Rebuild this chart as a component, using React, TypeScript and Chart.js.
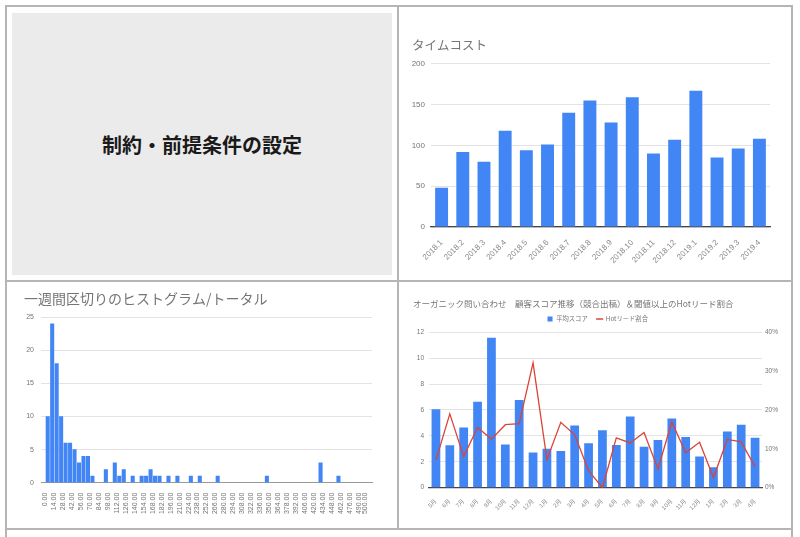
import React, { useEffect, useRef } from 'react';
import { Chart, registerables } from 'chart.js';
Chart.register(...registerables);

const NUM_FONT = '"Liberation Sans", "Noto Sans CJK JP", Arial, sans-serif';
const JP_FONT = '"Noto Sans CJK JP", "Liberation Sans", sans-serif';

// ---- タイムコスト ----
const timeLabels = ['2018.1', '2018.2', '2018.3', '2018.4', '2018.5', '2018.6', '2018.7', '2018.8', '2018.9', '2018.10', '2018.11', '2018.12', '2019.1', '2019.2', '2019.3', '2019.4'];
const timeValues = [48, 92, 80, 118, 94, 101, 140, 155, 128, 159, 90, 107, 167, 85, 96, 108];
const timeTicks = [0, 50, 100, 150, 200];

// ---- ヒストグラム ----
const histBinStart = [0, 7, 14, 21, 28, 35, 42, 49, 56, 63, 70, 91, 105, 112, 119, 133, 147, 154, 161, 168, 175, 189, 203, 224, 238, 266, 343, 427, 455];
const histCounts = [10, 24, 18, 10, 6, 6, 5, 3, 4, 4, 1, 2, 3, 1, 2, 1, 1, 1, 2, 1, 1, 1, 1, 1, 1, 1, 1, 3, 1];
const histBinWidth = 7;
const histXTicks = [0, 14, 28, 42, 56, 70, 84, 98, 112, 126, 140, 154, 168, 182, 196, 210, 224, 238, 252, 266, 280, 294, 308, 322, 336, 350, 364, 378, 392, 406, 420, 434, 448, 462, 476, 490, 500];
const histYTicks = [0, 5, 10, 15, 20, 25];

// ---- 顧客スコア推移 ----
const months = ['5月', '6月', '7月', '8月', '9月', '10月', '11月', '12月', '1月', '2月', '3月', '4月', '5月', '6月', '7月', '8月', '9月', '10月', '11月', '12月', '1月', '2月', '3月', '4月'];
const avgScore = [6.05, 3.27, 4.64, 6.64, 11.56, 3.34, 6.77, 2.72, 3.01, 2.83, 4.8, 3.42, 4.43, 3.29, 5.5, 3.16, 3.68, 5.34, 3.91, 2.41, 1.58, 4.33, 4.85, 3.86];
const hotRate = [7.1, 19.0, 8.0, 15.5, 12.5, 16.2, 16.5, 32.1, 7.2, 16.8, 13.6, 4.4, 0, 12.8, 11.5, 14.2, 4.8, 16.9, 9.0, 11.7, 2.6, 12.4, 11.8, 5.4];
const scoreTicks = [0, 2, 4, 6, 8, 10, 12];
const rateTicks = [0, 10, 20, 30, 40];

const BLUE = '#4285f4';
const RED = '#db4437';
const GRID = '#e3e3e3';

function setTicks(values: number[]) {
  return (scale: any) => {
    scale.ticks = values.map((v) => ({ value: v }));
  };
}

function timeConfig(): any {
  return {
    type: 'bar',
    data: {
      labels: timeLabels,
      datasets: [{ data: timeValues, backgroundColor: BLUE, borderWidth: 0, barPercentage: 0.61, categoryPercentage: 1 }],
    },
    options: {
      animation: false,
      responsive: false,
      maintainAspectRatio: false,
      layout: { padding: { left: 14, right: 20, top: 0, bottom: 0 } },
      plugins: {
        legend: { display: false },
        tooltip: { enabled: false },
        title: {
          display: true,
          text: 'タイムコスト',
          align: 'start',
          color: '#757575',
          font: { family: JP_FONT, size: 12.5, weight: 'normal' },
          padding: { top: 15.5, bottom: 11.2 },
        },
      },
      scales: {
        x: {
          grid: { display: false },
          border: { display: true, color: '#444', width: 1.2 },
          ticks: { minRotation: 45, maxRotation: 45, autoSkip: false, font: { family: NUM_FONT, size: 8 }, color: '#8a8a8a', padding: 3 },
          afterFit: (s: any) => { s.height = 51; },
        },
        y: {
          min: 0,
          max: 200,
          afterBuildTicks: setTicks(timeTicks),
          grid: { color: GRID, drawTicks: false },
          border: { display: false },
          ticks: { padding: 6, font: { family: NUM_FONT, size: 8 }, color: '#757575' },
          afterFit: (s: any) => { s.width = 19; },
        },
      },
    },
  };
}

function histConfig(): any {
  return {
    type: 'bar',
    data: {
      datasets: [{
        data: histBinStart.map((s, i) => ({ x: s + histBinWidth / 2, y: histCounts[i] })),
        backgroundColor: BLUE,
        borderWidth: 0,
        barThickness: 3.4,
      }],
    },
    options: {
      animation: false,
      responsive: false,
      maintainAspectRatio: false,
      layout: { padding: { left: 16, right: 23, top: 0, bottom: 0 } },
      plugins: {
        legend: { display: false },
        tooltip: { enabled: false },
        title: {
          display: true,
          text: '一週間区切りのヒストグラム/トータル',
          align: 'start',
          color: '#757575',
          font: { family: JP_FONT, size: 14, weight: 'normal' },
          padding: { top: 7.6, bottom: 9.9 },
        },
      },
      scales: {
        x: {
          type: 'linear',
          min: 0,
          max: 504,
          afterBuildTicks: setTicks(histXTicks),
          grid: { display: false },
          border: { display: true, color: '#999', width: 1 },
          ticks: {
            minRotation: 90, maxRotation: 90, autoSkip: false, padding: 2,
            font: { family: NUM_FONT, size: 7 }, color: '#757575',
            callback: (v: any) => Number(v).toFixed(2),
          },
          afterFit: (s: any) => { s.height = 43.3; },
        },
        y: {
          min: 0,
          max: 25,
          afterBuildTicks: setTicks(histYTicks),
          grid: { color: GRID, drawTicks: false },
          border: { display: false },
          ticks: { padding: 7, font: { family: NUM_FONT, size: 7 }, color: '#757575' },
          afterFit: (s: any) => { s.width = 17; },
        },
      },
    },
  };
}

function comboConfig(): any {
  return {
    type: 'bar',
    data: {
      labels: months,
      datasets: [
        {
          type: 'line',
          label: 'Hotリード割合',
          data: hotRate,
          yAxisID: 'y1',
          borderColor: RED,
          backgroundColor: RED,
          borderWidth: 1.3,
          pointRadius: 0,
          tension: 0,
          pointStyle: 'line',
          order: 0,
        },
        {
          type: 'bar',
          label: '平均スコア',
          data: avgScore,
          yAxisID: 'y',
          backgroundColor: BLUE,
          borderWidth: 0,
          barPercentage: 0.63,
          categoryPercentage: 1,
          pointStyle: 'rect',
          order: 1,
        },
      ],
    },
    options: {
      animation: false,
      responsive: false,
      maintainAspectRatio: false,
      layout: { padding: { left: 13, right: 8, top: 0, bottom: 0 } },
      plugins: {
        tooltip: { enabled: false },
        title: {
          display: true,
          text: 'オーガニック問い合わせ　顧客スコア推移（競合出稿）＆閾値以上のHotリード割合',
          align: 'start',
          color: '#757575',
          font: { family: JP_FONT, size: 8.5, weight: 'normal' },
          padding: { top: 15.9, bottom: -2.25 },
        },
        legend: {
          display: true,
          position: 'top',
          align: 'center',
          reverse: true,
          labels: {
            usePointStyle: true,
            boxWidth: 6,
            boxHeight: 5,
            padding: 9,
            color: '#757575',
            font: { family: JP_FONT, size: 6.3 },
          },
        },
      },
      scales: {
        x: {
          grid: { display: false },
          border: { display: true, color: '#444', width: 1.2 },
          ticks: { minRotation: 45, maxRotation: 45, autoSkip: false, font: { family: NUM_FONT, size: 6 }, color: '#8a8a8a', padding: 2 },
          afterFit: (s: any) => { s.height = 38.3; },
        },
        y: {
          position: 'left',
          min: 0,
          max: 12,
          afterBuildTicks: setTicks(scoreTicks),
          grid: { color: GRID, drawTicks: false },
          border: { display: false },
          ticks: { padding: 5, font: { family: NUM_FONT, size: 6.5 }, color: '#757575' },
          afterFit: (s: any) => { s.width = 16; },
        },
        y1: {
          position: 'right',
          min: 0,
          max: 40,
          afterBuildTicks: setTicks(rateTicks),
          grid: { display: false, drawTicks: false },
          border: { display: false },
          ticks: { padding: 3, font: { family: NUM_FONT, size: 6.5 }, color: '#757575', callback: (v: any) => v + '%' },
          afterFit: (s: any) => { s.width = 20; },
        },
      },
    },
  };
}

function ChartCanvas(props: { left: number; top: number; width: number; height: number; make: () => any }) {
  const ref = useRef<HTMLCanvasElement>(null);
  useEffect(() => {
    const chart = new Chart(ref.current as HTMLCanvasElement, props.make());
    return () => chart.destroy();
  }, []);
  return (
    <canvas
      ref={ref}
      width={props.width}
      height={props.height}
      style={{ position: 'absolute', left: props.left, top: props.top, width: props.width, height: props.height }}
    />
  );
}

const LINE = '#b5b5b5';

function Line(p: { l: number; t: number; w: number; h: number }) {
  return <div style={{ position: 'absolute', left: p.l, top: p.t, width: p.w, height: p.h, background: LINE }} />;
}

export default function App() {
  return (
    <div style={{ position: 'fixed', left: 0, top: 0, width: 800, height: 537, background: '#fff', overflow: 'hidden' }}>
      <Line l={5} t={5} w={788} h={2} />
      <Line l={5} t={5} w={2} h={532} />
      <Line l={791} t={5} w={2} h={532} />
      <Line l={397} t={5} w={2} h={525} />
      <Line l={5} t={280} w={788} h={2} />
      <Line l={5} t={528} w={788} h={2} />
      <div
        style={{
          position: 'absolute', left: 12, top: 13, width: 380, height: 262, background: '#ebebeb',
          display: 'flex', alignItems: 'center', justifyContent: 'center',
          fontFamily: JP_FONT, fontSize: 20, fontWeight: 'bold', color: '#1a1a1a',
        }}
      >
        制約・前提条件の設定
      </div>
      <ChartCanvas left={398} top={22} width={392} height={256} make={timeConfig} />
      <ChartCanvas left={8} top={283} width={387} height={243} make={histConfig} />
      <ChartCanvas left={400} top={283} width={390} height={243} make={comboConfig} />
    </div>
  );
}
